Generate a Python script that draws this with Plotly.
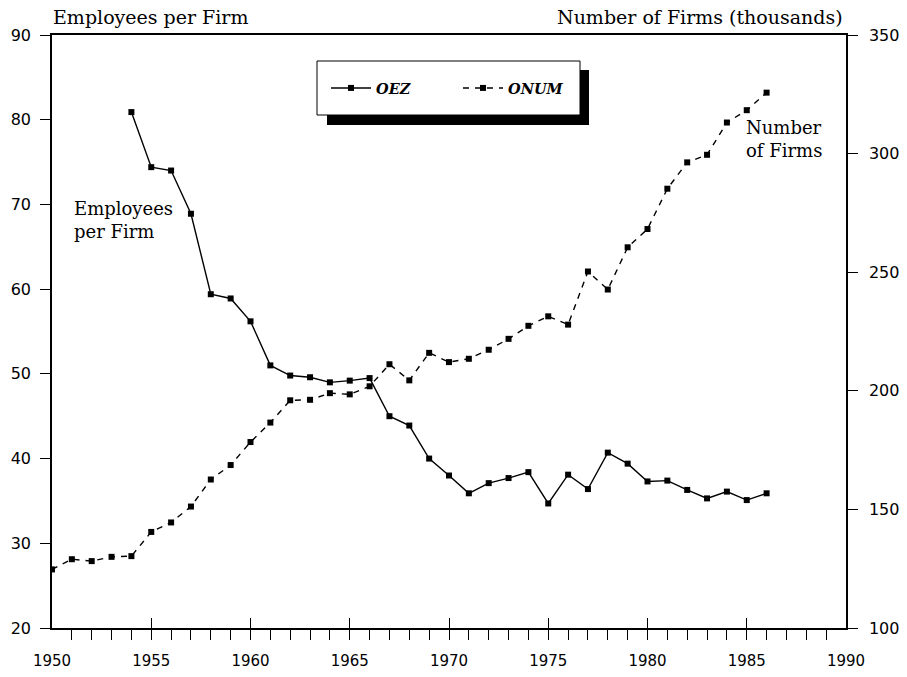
import plotly.graph_objects as go

# ---- data ----
oez_years = list(range(1954, 1987))
oez_values = [80.9, 74.4, 74.0, 68.9, 59.4, 58.9, 56.2, 51.0, 49.8, 49.6, 49.0, 49.2, 49.5,
              45.0, 43.9, 40.0, 38.0, 35.9, 37.1, 37.7, 38.4, 34.7, 38.1, 36.4, 40.7, 39.4,
              37.3, 37.4, 36.3, 35.3, 36.1, 35.1, 35.9]

onum_years = list(range(1950, 1987))
onum_values = [124.7, 129.0, 128.2, 130.0, 130.3, 140.5, 144.5, 151.2, 162.6, 168.7, 178.4,
               186.6, 196.0, 196.2, 199.0, 198.5, 201.9, 211.2, 204.4, 216.0, 212.1, 213.5,
               217.3, 221.9, 227.4, 231.4, 227.9, 250.3, 242.7, 260.5, 268.2, 285.2, 296.3,
               299.5, 313.1, 318.3, 325.7]

x_ticks = [1950, 1955, 1960, 1965, 1970, 1975, 1980, 1985, 1990]
left_ticks = [20, 30, 40, 50, 60, 70, 80, 90]
right_ticks = [100, 150, 200, 250, 300, 350]

# ---- layout geometry (pixels) ----
W, H = 907, 677
L, R, T, B = 52, 846, 35, 628


def px(x):
    return (x - L) / (R - L)


def py(y):
    return 1 - (y - T) / (B - T)


SERIF = "DejaVu Serif"
SANS = "DejaVu Sans"

fig = go.Figure()
fig.add_trace(go.Scatter(
    x=oez_years, y=oez_values, name="OEZ", mode="lines+markers",
    line=dict(color="black", width=1.4),
    marker=dict(symbol="square", size=6, color="black"),
    yaxis="y"))
fig.add_trace(go.Scatter(
    x=onum_years, y=onum_values, name="ONUM", mode="lines+markers",
    line=dict(color="black", width=1.4, dash="6px,6px"),
    marker=dict(symbol="square", size=6, color="black"),
    yaxis="y2"))

axis_common = dict(showgrid=False, zeroline=False, showline=True, linecolor="black",
                   linewidth=1.5, tickcolor="black", tickwidth=1.2, automargin=False)

fig.update_layout(
    width=W, height=H,
    margin=dict(l=L, r=W - R, t=T, b=H - B),
    paper_bgcolor="white", plot_bgcolor="white",
    xaxis=dict(range=[1950, 1990], tickvals=x_ticks, ticks="inside", ticklen=10,
               minor=dict(dtick=1, ticks="outside", ticklen=10, tickcolor="black",
                          tickwidth=1.2),
               mirror=True, ticklabelstandoff=18,
               tickfont=dict(family=SANS, size=15, color="black"), **axis_common),
    yaxis=dict(range=[20, 90], tickvals=left_ticks, ticks="outside", ticklen=10,
               ticklabelstandoff=6,
               tickfont=dict(family=SANS, size=16, color="black"), **axis_common),
    yaxis2=dict(range=[100, 350], tickvals=right_ticks, ticks="outside", ticklen=10,
                overlaying="y", side="right", ticklabelstandoff=8,
                tickfont=dict(family=SANS, size=16, color="black"), **axis_common),
    showlegend=True,
    legend=dict(orientation="h", x=px(326), y=py(88), xanchor="left", yanchor="middle",
                bgcolor="rgba(0,0,0,0)", borderwidth=0,
                font=dict(family=SERIF, size=14.5, color="black", style="italic",
                          weight="bold"),
                entrywidth=77, entrywidthmode="pixels", itemwidth=40),
    shapes=[
        dict(type="rect", xref="paper", yref="paper", x0=px(327), x1=px(589),
             y0=py(125), y1=py(70), fillcolor="black", line=dict(width=0)),
        dict(type="rect", xref="paper", yref="paper", x0=px(317), x1=px(580),
             y0=py(115), y1=py(61), fillcolor="white", line=dict(color="black", width=1)),
    ],
    annotations=[
        dict(text="Employees per Firm", xref="paper", yref="paper", x=px(51), y=py(17),
             xanchor="left", yanchor="middle", showarrow=False,
             font=dict(family=SERIF, size=19, color="black")),
        dict(text="Number of Firms (thousands)", xref="paper", yref="paper", x=px(845),
             y=py(17), xanchor="right", yanchor="middle", showarrow=False,
             font=dict(family=SERIF, size=19, color="black")),
        dict(text="Employees<br>per Firm", xref="paper", yref="paper", x=px(72), y=py(220),
             xanchor="left", yanchor="middle", align="left", showarrow=False,
             font=dict(family=SERIF, size=18, color="black")),
        dict(text="Number<br>of Firms", xref="paper", yref="paper", x=px(744), y=py(139),
             xanchor="left", yanchor="middle", align="left", showarrow=False,
             font=dict(family=SERIF, size=18, color="black")),
    ],
)

fig.write_html("out.html", config={"displayModeBar": False},
               post_script="document.body.style.margin='0px';")
